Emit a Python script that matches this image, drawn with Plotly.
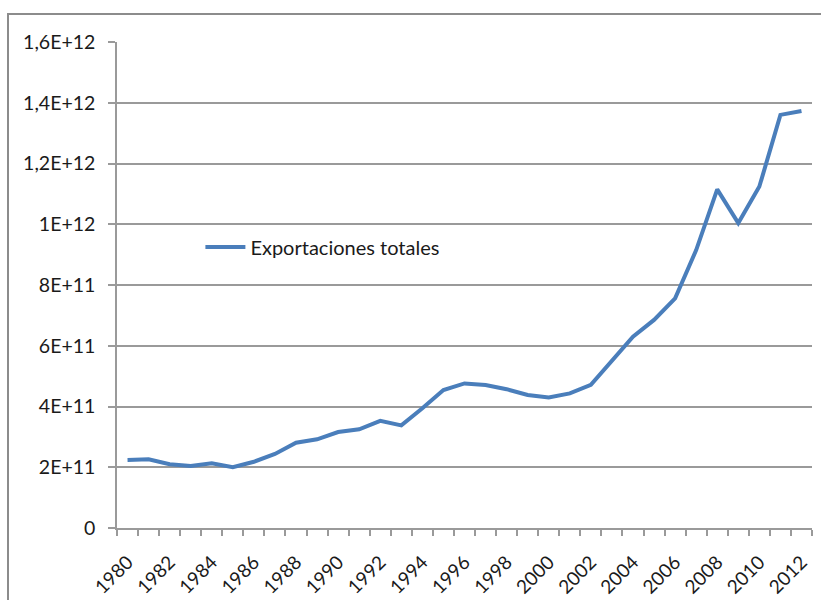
import plotly.graph_objects as go

years = list(range(1980, 2013))
exportaciones = [
    2.24e11, 2.26e11, 2.10e11, 2.04e11, 2.13e11, 2.00e11, 2.18e11, 2.44e11,
    2.81e11, 2.92e11, 3.16e11, 3.25e11, 3.53e11, 3.38e11, 3.94e11, 4.54e11,
    4.76e11, 4.71e11, 4.57e11, 4.38e11, 4.30e11, 4.43e11, 4.71e11, 5.53e11,
    6.30e11, 6.85e11, 7.56e11, 9.15e11, 1.115e12, 1.004e12, 1.124e12,
    1.36e12, 1.373e12,
]
series_name = "Exportaciones totales"

y_tickvals = [0, 2e11, 4e11, 6e11, 8e11, 1e12, 1.2e12, 1.4e12, 1.6e12]
y_ticktext = ["0", "2E+11", "4E+11", "6E+11", "8E+11", "1E+12", "1,2E+12", "1,4E+12", "1,6E+12"]
x_tickvals = list(range(1980, 2013, 2))
x_ticktext = [str(y) for y in x_tickvals]

FONT = "Lato"
TXT = "#1a1a1a"
GRID = "#9a9a9a"

fig = go.Figure()
fig.add_trace(go.Scatter(
    x=years, y=exportaciones, mode="lines", name=series_name,
    line=dict(color="#4a7ebb", width=4),
    showlegend=True,
))

fig.update_layout(
    width=821, height=600,
    margin=dict(l=117, r=9, t=42, b=72),
    paper_bgcolor="white", plot_bgcolor="white",
    font=dict(family=FONT, size=20, color=TXT),
    showlegend=True,
    legend=dict(x=0.12, y=0.578, xanchor="left", yanchor="middle",
                bgcolor="rgba(0,0,0,0)", font=dict(size=20, color=TXT),
                itemwidth=40),
    xaxis=dict(
        range=[1979.5, 2012.5], tickmode="array", tickvals=x_tickvals,
        ticktext=x_ticktext, tickangle=-45, ticks="", showgrid=False,
        showline=True, linecolor=GRID, linewidth=1.5, zeroline=False,
        automargin=False, ticklabelstandoff=14,
        tickfont=dict(size=19, color=TXT),
        minor=dict(ticks="outside", ticklen=6, tickcolor=GRID, tickwidth=1.5,
                   tick0=1979.5, dtick=1, showgrid=False),
    ),
    yaxis=dict(
        range=[0, 1.6e12], tickmode="array", tickvals=y_tickvals,
        ticktext=y_ticktext, ticks="outside", ticklen=7, tickcolor=GRID,
        tickwidth=1.5, showgrid=True, gridcolor=GRID, gridwidth=1.5,
        showline=True, linecolor=GRID, linewidth=1.5, zeroline=False,
        automargin=False,
        ticklabelstandoff=9, tickfont=dict(size=19.5, color=TXT),
    ),
    shapes=[dict(type="rect", xref="paper", yref="paper",
                 x0=(8 - 117) / 695, x1=1.05, y0=-0.2, y1=(528 - 14) / 486,
                 line=dict(color="#8c8c8c", width=2), layer="below")],
)

fig.write_html(
    "out.html",
    config={"displayModeBar": False},
    post_script="document.body.style.margin='0';document.body.style.overflow='hidden';",
)
